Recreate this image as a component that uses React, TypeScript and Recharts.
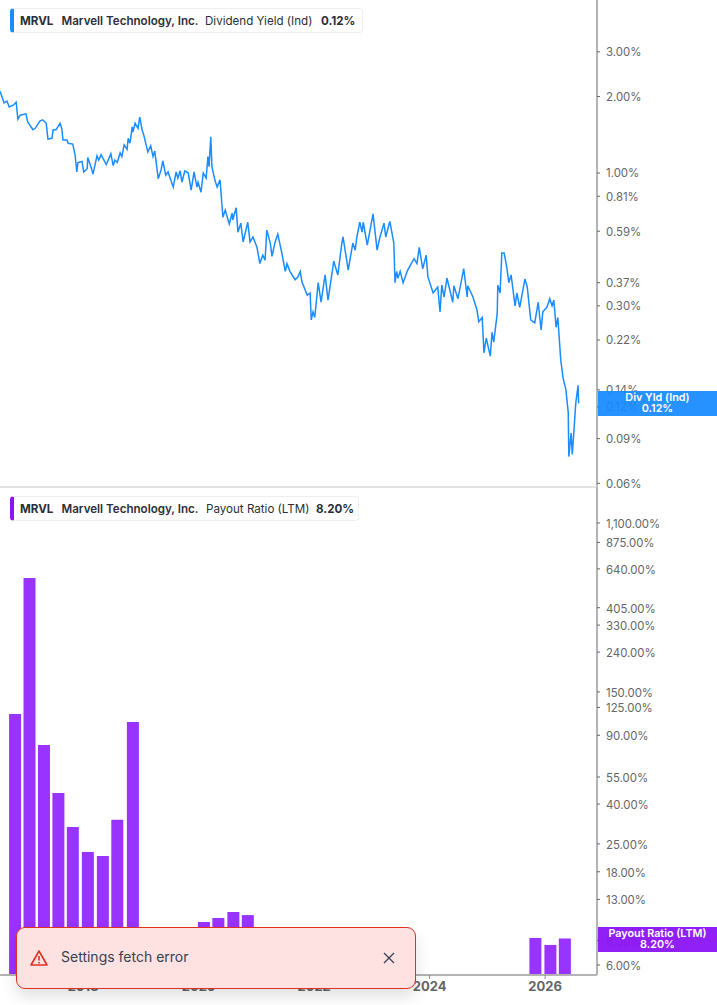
import React from 'react';
import { LineChart, Line, BarChart, Bar, XAxis, YAxis } from 'recharts';

const yieldYears = [
  2016.56, 2016.58, 2016.63, 2016.68, 2016.72, 2016.79, 2016.84, 2016.87, 2016.91, 2017.01, 2017.04, 2017.13, 2017.17, 2017.25, 2017.30, 2017.36,
  2017.39, 2017.46, 2017.48, 2017.53, 2017.60, 2017.63, 2017.65, 2017.72, 2017.74, 2017.82, 2017.86, 2017.89, 2017.91, 2017.98, 2018.01, 2018.07,
  2018.08, 2018.14, 2018.17, 2018.24, 2018.27, 2018.31, 2018.40, 2018.48, 2018.52, 2018.55, 2018.59, 2018.64, 2018.67, 2018.71, 2018.76, 2018.78,
  2018.81, 2018.85, 2018.86, 2018.90, 2018.95, 2018.98, 2019.02, 2019.05, 2019.09, 2019.12, 2019.17, 2019.21, 2019.24, 2019.30, 2019.35, 2019.38,
  2019.43, 2019.47, 2019.56, 2019.61, 2019.64, 2019.68, 2019.71, 2019.76, 2019.82, 2019.87, 2019.92, 2019.97, 2019.99, 2020.04, 2020.08, 2020.13,
  2020.16, 2020.18, 2020.21, 2020.23, 2020.28, 2020.32, 2020.37, 2020.42, 2020.46, 2020.53, 2020.58, 2020.59, 2020.65, 2020.68, 2020.73, 2020.77,
  2020.85, 2020.89, 2020.94, 2021.01, 2021.06, 2021.11, 2021.15, 2021.18, 2021.24, 2021.27, 2021.32, 2021.37, 2021.43, 2021.50, 2021.53, 2021.58,
  2021.67, 2021.72, 2021.76, 2021.79, 2021.88, 2021.93, 2021.95, 2021.98, 2022.01, 2022.07, 2022.12, 2022.19, 2022.24, 2022.34, 2022.41, 2022.48,
  2022.50, 2022.59, 2022.67, 2022.71, 2022.74, 2022.79, 2022.83, 2022.85, 2022.92, 2023.02, 2023.09, 2023.14, 2023.21, 2023.24, 2023.31, 2023.38,
  2023.40, 2023.43, 2023.45, 2023.49, 2023.54, 2023.62, 2023.73, 2023.78, 2023.82, 2023.88, 2023.94, 2023.97, 2024.06, 2024.14, 2024.18, 2024.21,
  2024.25, 2024.30, 2024.40, 2024.42, 2024.49, 2024.59, 2024.65, 2024.66, 2024.75, 2024.82, 2024.85, 2024.91, 2024.94, 2024.98, 2025.05, 2025.08,
  2025.11, 2025.17, 2025.18, 2025.22, 2025.25, 2025.29, 2025.34, 2025.37, 2025.41, 2025.48, 2025.51, 2025.56, 2025.65, 2025.69, 2025.75, 2025.82,
  2025.88, 2025.93, 2025.96, 2026.03, 2026.08, 2026.12, 2026.15, 2026.19, 2026.22, 2026.27, 2026.31, 2026.36, 2026.40, 2026.41, 2026.45, 2026.47,
  2026.50, 2026.53, 2026.57, 2026.58,
];

const yieldValues = [
  2.1, 2.04, 1.89, 1.92, 1.82, 1.85, 1.90, 1.63, 1.69, 1.71, 1.59, 1.48, 1.50, 1.60, 1.62, 1.57,
  1.36, 1.37, 1.48, 1.48, 1.57, 1.50, 1.35, 1.35, 1.31, 1.30, 1.18, 1.01, 1.10, 1.11, 1.01, 1.04,
  1.15, 1.05, 0.99, 1.17, 1.125, 1.18, 1.08, 1.19, 1.07, 1.125, 1.10, 1.20, 1.16, 1.29, 1.24, 1.37,
  1.31, 1.52, 1.45, 1.57, 1.50, 1.66, 1.48, 1.41, 1.29, 1.21, 1.28, 1.16, 1.22, 0.95, 1.03, 1.115,
  0.98, 1.01, 0.88, 1.01, 0.955, 1.02, 0.92, 1.02, 1.00, 0.857, 1.01, 0.88, 0.92, 0.84, 1.00, 0.955,
  1.16, 1.06, 1.39, 1.06, 0.94, 0.88, 0.94, 0.67, 0.715, 0.63, 0.695, 0.653, 0.73, 0.585, 0.635, 0.535,
  0.64, 0.535, 0.56, 0.51, 0.44, 0.475, 0.454, 0.596, 0.53, 0.47, 0.53, 0.575, 0.497, 0.41, 0.44, 0.41,
  0.38, 0.39, 0.41, 0.372, 0.33, 0.337, 0.264, 0.284, 0.27, 0.37, 0.31, 0.397, 0.316, 0.45, 0.397, 0.53,
  0.56, 0.415, 0.53, 0.497, 0.56, 0.64, 0.585, 0.64, 0.52, 0.69, 0.497, 0.56, 0.635, 0.56, 0.645, 0.53,
  0.37, 0.41, 0.385, 0.41, 0.37, 0.415, 0.46, 0.44, 0.51, 0.42, 0.475, 0.39, 0.337, 0.356, 0.284, 0.362,
  0.325, 0.386, 0.31, 0.36, 0.32, 0.42, 0.325, 0.36, 0.325, 0.289, 0.26, 0.27, 0.196, 0.224, 0.19, 0.236,
  0.216, 0.28, 0.362, 0.337, 0.484, 0.484, 0.42, 0.37, 0.397, 0.30, 0.337, 0.296, 0.383, 0.356, 0.264, 0.257,
  0.31, 0.241, 0.284, 0.296, 0.32, 0.30, 0.316, 0.247, 0.27, 0.184, 0.156, 0.14, 0.114, 0.0765, 0.0946, 0.078,
  0.0974, 0.124, 0.146, 0.124,
];

const payoutYears = [
  2016.825, 2017.075, 2017.325, 2017.575, 2017.825, 2018.085, 2018.345, 2018.595, 2018.865,
  2020.095, 2020.345, 2020.605, 2020.855, 2025.835, 2026.095, 2026.345,
];
const payoutValues = [
  115.7, 575, 80.3, 45.6, 30.5, 22.7, 21.7, 33.2, 105.3,
  9.96, 10.44, 11.2, 10.8, 8.25, 7.6, 8.2,
];

const yieldTicks = [3, 2, 1, 0.81, 0.59, 0.37, 0.3, 0.22, 0.14, 0.12, 0.09, 0.06];
const payoutTicks = [1100, 875, 640, 405, 330, 240, 150, 125, 90, 55, 40, 25, 18, 13, 8, 6];
const yearTicks = [2018, 2020, 2022, 2024, 2026];

const yieldData = yieldYears.map((year, i) => ({ year, value: yieldValues[i] }));
const payoutData = payoutYears.map((year, i) => ({ year, value: payoutValues[i] }));

const FONT = 'Inter, sans-serif';
const AXIS = '#b3b3b3';
const BLUE = '#1a8cff';
const PURPLE = '#9933ff';
const xDomain: [number, number] = [2016.56, 2026.898];

const pct = (v: number) =>
  v.toLocaleString('en-US', { minimumFractionDigits: 2, maximumFractionDigits: 2 }) + '%';

const tickStyle = { fontSize: 11.4, fill: '#666', fontFamily: FONT };

const Legend = ({ top, width, color, label, value, labelX, valueX }: any) => (
  <div style={{
    position: 'absolute', left: 10, top, width, height: 25, boxSizing: 'border-box', background: '#fff',
    border: '1px solid #eeeeee', borderLeft: `4px solid ${color}`, borderRadius: 4,
    fontFamily: FONT, fontSize: 11.6, color: '#2b2f36', lineHeight: '24px',
  }}>
    <span style={{ position: 'absolute', left: 6, fontWeight: 700 }}>MRVL</span>
    <span style={{ position: 'absolute', left: 47.5, fontWeight: 600, whiteSpace: 'nowrap' }}>Marvell Technology, Inc.</span>
    <span style={{ position: 'absolute', left: labelX, whiteSpace: 'nowrap' }}>{label}</span>
    <span style={{ position: 'absolute', left: valueX, fontWeight: 700 }}>{value}</span>
  </div>
);

const Badge = ({ top, color, title, value }: any) => (
  <div style={{
    position: 'absolute', left: 598, top, width: 119, height: 25, background: color,
    color: '#fff', fontFamily: FONT, fontSize: 10.8, fontWeight: 600, lineHeight: '11px',
    textAlign: 'center', paddingTop: 1, boxSizing: 'border-box',
  }}>
    <div>{title}</div>
    <div>{value}</div>
  </div>
);

const Toast = () => (
  <div style={{
    position: 'absolute', left: 16, top: 927, width: 400, height: 62, boxSizing: 'border-box',
    background: '#fee2e2', border: '1px solid #e0301e', borderRadius: 9,
    boxShadow: '0 8px 16px rgba(0,0,0,0.12)', fontFamily: FONT, fontSize: 14, color: '#374151',
  }}>
    <svg width="18" height="18" viewBox="0 0 18 18" style={{ position: 'absolute', left: 13, top: 21 }}>
      <path d="M9 2 L17 16 L1 16 Z" fill="none" stroke="#e0301e" strokeWidth="1.6" strokeLinejoin="round" />
      <path d="M9 7 V11.5 M9 13 V14.4" stroke="#e0301e" strokeWidth="1.6" />
    </svg>
    <span style={{ position: 'absolute', left: 44, top: 20 }}>Settings fetch error</span>
    <svg width="14" height="14" viewBox="0 0 14 14" style={{ position: 'absolute', left: 365, top: 23 }}>
      <path d="M2 2 L12 12 M12 2 L2 12" stroke="#374151" strokeWidth="1.3" />
    </svg>
  </div>
);

export default function App() {
  return (
    <div style={{ position: 'absolute', left: 0, top: 0, width: 717, height: 1005, overflow: 'hidden', background: '#fff' }}>
      <div style={{ position: 'absolute', left: 0, top: 0 }}>
        <LineChart width={717} height={497} data={yieldData} margin={{ top: 0, right: 0, bottom: 10, left: 0 }}>
          <XAxis dataKey="year" type="number" domain={xDomain} hide />
          <YAxis
            orientation="right" width={120} scale="log" domain={[0.05805, 4.8]} allowDataOverflow
            ticks={yieldTicks} interval={0} tickFormatter={pct} tick={{ ...tickStyle, dy: 0.4 }}
            stroke={AXIS} strokeWidth={2} tickSize={3} tickMargin={6} tickLine={{ stroke: '#666', strokeWidth: 1 }}
          />
          <Line dataKey="value" stroke={BLUE} strokeWidth={1.5} dot={false} activeDot={false} isAnimationActive={false} />
        </LineChart>
      </div>
      <div style={{ position: 'absolute', left: 0, top: 486, width: 597, height: 2, background: '#e2e2e2' }} />
      <div style={{ position: 'absolute', left: 0, top: 487 }}>
        <BarChart width={717} height={519} data={payoutData} margin={{ top: 0, right: 0, bottom: 0, left: 0 }}>
          <XAxis
            dataKey="year" type="number" domain={xDomain} ticks={yearTicks} interval={0} height={31}
            tick={{ fontSize: 13, fontWeight: 700, fill: '#666', fontFamily: FONT }}
            stroke={AXIS} strokeWidth={2} tickSize={4} tickMargin={3} tickLine={{ stroke: '#888', strokeWidth: 1 }}
          />
          <YAxis
            orientation="right" width={120} scale="log" domain={[5.33, 1681]} allowDataOverflow
            ticks={payoutTicks} interval={0} tickFormatter={pct} tick={{ ...tickStyle, dy: 1 }}
            stroke={AXIS} strokeWidth={2} tickSize={3} tickMargin={6} tickLine={{ stroke: '#666', strokeWidth: 1 }}
          />
          <Bar dataKey="value" fill={PURPLE} barSize={12} isAnimationActive={false} />
        </BarChart>
      </div>
      <Legend top={8} width={353} color={BLUE} label="Dividend Yield (Ind)" value="0.12%" labelX={191} valueX={307} />
      <Legend top={496} width={349} color="#8a14f5" label="Payout Ratio (LTM)" value="8.20%" labelX={192} valueX={302} />
      <Badge top={391} color="rgba(22,138,255,0.93)" title="Div Yld (Ind)" value="0.12%" />
      <Badge top={927} color="rgba(138,20,245,0.95)" title="Payout Ratio (LTM)" value="8.20%" />
      <Toast />
    </div>
  );
}
